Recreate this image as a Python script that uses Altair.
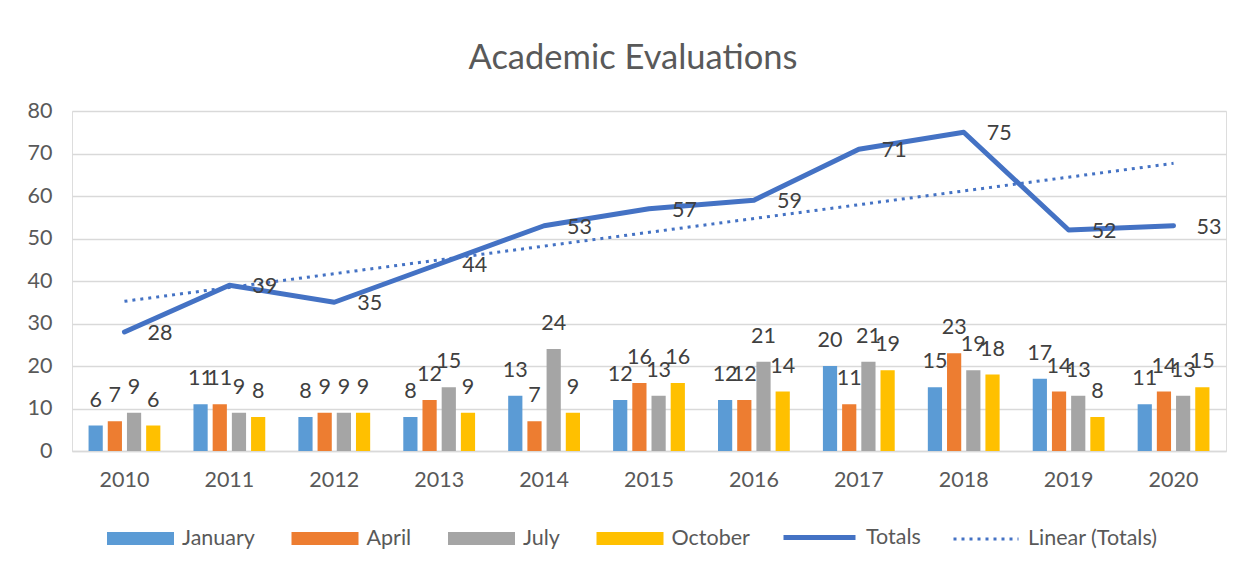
import altair as alt
import pandas as pd

years = ["2010", "2011", "2012", "2013", "2014", "2015", "2016", "2017", "2018", "2019", "2020"]
months = ["January", "April", "July", "October"]
jan = [6, 11, 8, 8, 13, 12, 12, 20, 15, 17, 11]
apr = [7, 11, 9, 12, 7, 16, 12, 11, 23, 14, 14]
jul = [9, 9, 9, 15, 24, 13, 21, 21, 19, 13, 13]
octo = [6, 8, 9, 9, 9, 16, 14, 19, 18, 8, 15]
totals = [28, 39, 35, 44, 53, 57, 59, 71, 75, 52, 53]
y_ticks = [0, 10, 20, 30, 40, 50, 60, 70, 80]

bar_colors = ["#5B9BD5", "#ED7D31", "#A5A5A5", "#FFC000"]
line_color = "#4472C4"
FONT = "Lato"
LBL = 21.5
TXT = "#404040"
AX = "#595959"
LEG_Y = 394

rows = []
for m, vals in zip(months, [jan, apr, jul, octo]):
    for y, v in zip(years, vals):
        rows.append({"Year": y, "Month": m, "Value": v})
bars_df = pd.DataFrame(rows)
tot_df = pd.DataFrame({"Year": years, "Total": totals})

x_enc = alt.X(
    "Year:N",
    scale=alt.Scale(domain=years, paddingInner=0.268, paddingOuter=0.134),
    axis=alt.Axis(title=None, ticks=False, domain=True, domainColor="#d9d9d9",
                  domainWidth=1.5, labelAngle=0, labelPadding=18, labelFontSize=LBL,
                  labelColor=AX, labelFont=FONT, grid=False),
)
x_plain = alt.X("Year:N", scale=alt.Scale(domain=years))
y_scale = alt.Scale(domain=[0, 80], nice=False)
y_axis = alt.Axis(title=None, values=y_ticks, domain=False, ticks=False, labelPadding=20,
                  grid=True, gridColor="#d9d9d9", gridWidth=1.3, labelFontSize=LBL,
                  labelColor=AX, labelFont=FONT)
xoff = alt.XOffset("Month:N", scale=alt.Scale(domain=months, paddingInner=0.26, paddingOuter=0.13))


def leg(x, y=LEG_Y, **kw):
    return alt.Legend(orient="none", legendX=x, legendY=y, direction="horizontal", title=None,
                      labelFontSize=LBL, labelColor=AX, labelFont=FONT, labelOffset=8, **kw)


bars = alt.Chart(bars_df).mark_bar().encode(
    x=x_enc,
    xOffset=xoff,
    y=alt.Y("Value:Q", scale=y_scale, axis=y_axis),
    color=alt.Color(
        "Month:N",
        scale=alt.Scale(domain=months, range=bar_colors),
        legend=leg(35, symbolType="M-1,-0.194H1V0.194H-1Z", symbolSize=4489,
                   symbolStrokeWidth=0, symbolOpacity=1, columnPadding=36.5),
    ),
)

bar_text = alt.Chart(bars_df).mark_text(
    baseline="middle", dy=-25, fontSize=LBL, color=TXT, font=FONT
).encode(
    x=x_plain,
    xOffset=xoff,
    y=alt.Y("Value:Q", scale=y_scale),
    text="Value:Q",
)

totals_line = alt.Chart(tot_df).transform_calculate(
    Series="'Totals'"
).mark_line(strokeJoin="round", strokeCap="round", strokeWidth=5).encode(
    x=x_plain,
    y=alt.Y("Total:Q", scale=y_scale),
    color=alt.Color("Series:N", scale=alt.Scale(domain=["Totals"], range=[line_color]),
                    legend=leg(709, y=LEG_Y - 6, symbolType="stroke", symbolSize=5184,
                               symbolStrokeWidth=5, symbolStrokeColor=line_color)),
)

trend_line = alt.Chart(tot_df).transform_calculate(
    yr="toNumber(datum.Year)"
).transform_regression(
    "yr", "Total", method="linear"
).transform_calculate(
    Year="toString(datum.yr)", Series="'Linear (Totals)'"
).mark_line(strokeWidth=3, strokeDash=[3, 5]).encode(
    x=x_plain,
    y=alt.Y("Total:Q", scale=y_scale),
    color=alt.Color("Series:N", scale=alt.Scale(domain=["Linear (Totals)"], range=[line_color]),
                    legend=leg(880, symbolType="stroke", symbolSize=4225, symbolStrokeWidth=3,
                               symbolDash=[3, 5], symbolStrokeColor=line_color)),
)

line_text = alt.Chart(tot_df).mark_text(
    align="left", baseline="middle", dx=23, dy=2, fontSize=LBL, color=TXT, font=FONT
).encode(
    x=x_plain,
    y=alt.Y("Total:Q", scale=y_scale),
    text="Total:Q",
)

chart = alt.layer(bars, bar_text, totals_line, trend_line, line_text).resolve_scale(
    color="independent"
).properties(
    width=1154, height=340,
    title=alt.TitleParams("Academic Evaluations", fontSize=34.5, font=FONT, fontWeight="normal",
                          color=AX, anchor="middle", dx=-16, offset=24),
    padding={"left": 64, "top": 103, "right": 16, "bottom": 108},
    autosize=alt.AutoSizeParams(type="none"),
).configure_view(stroke=None).configure(font=FONT, background="white")

chart.save("out.html", embed_options={"renderer": "svg", "actions": False})
